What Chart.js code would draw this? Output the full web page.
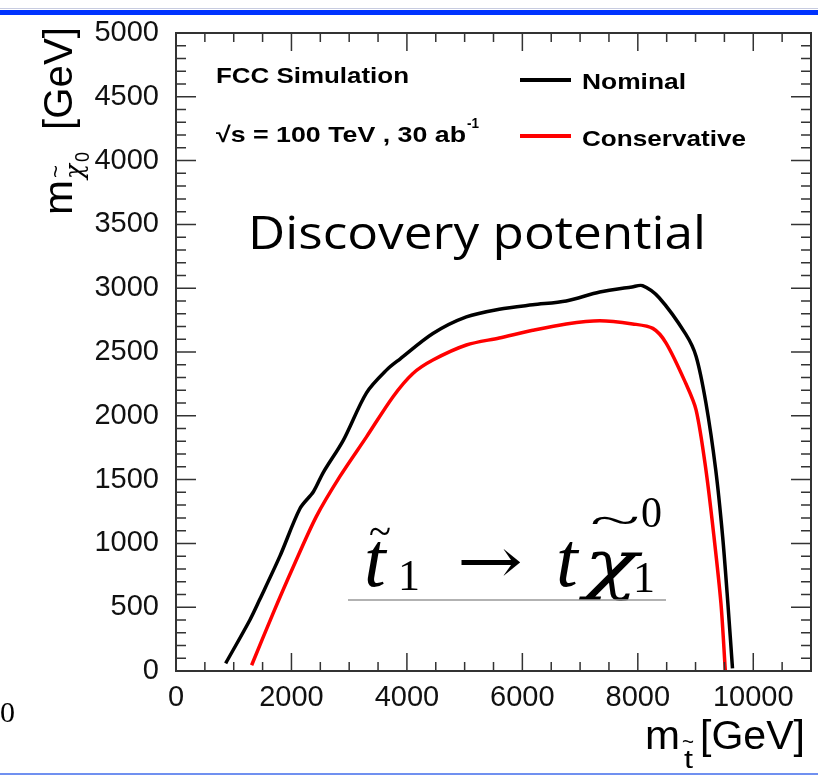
<!DOCTYPE html>
<html>
<head>
<meta charset="utf-8">
<script src="https://cdn.jsdelivr.net/npm/chart.js@4.4.1/dist/chart.umd.min.js"></script>
<style>
  body { margin: 0; background: #fff; }
  #wrap { position: relative; width: 818px; height: 775px; }
</style>
</head>
<body>
<div id="wrap"><canvas id="c" width="818" height="775"></canvas></div>
<script>
// stop mass (GeV) vs neutralino mass (GeV) reach contours
var nominalX = [860, 1280, 1450, 1800, 2150, 2380, 2550, 2900, 3300, 3650, 3880, 4450, 5030, 5600, 6180, 6760, 7340, 7900, 8080, 8370, 8830, 9010, 9180, 9350, 9470, 9560, 9640];
var nominalY = [60, 400, 560, 900, 1275, 1405, 1555, 1810, 2180, 2360, 2445, 2645, 2775, 2835, 2870, 2900, 2970, 3010, 3020, 2925, 2640, 2465, 2100, 1575, 1050, 530, 20];

var conservX = [1310, 1680, 2030, 2430, 2840, 3300, 3760, 4100, 4450, 5030, 5600, 6180, 6760, 7340, 7910, 8260, 8490, 8830, 9010, 9180, 9320, 9440, 9516];
var conservY = [45, 450, 815, 1210, 1525, 1835, 2150, 2330, 2437, 2555, 2610, 2670, 2720, 2745, 2720, 2685, 2570, 2255, 2045, 1575, 1050, 530, 0];

var xTicks = [0, 2000, 4000, 6000, 8000, 10000];
var yTicks = [0, 500, 1000, 1500, 2000, 2500, 3000, 3500, 4000, 4500, 5000];

function pts(xs, ys) {
  return xs.map(function (x, i) { return { x: x, y: ys[i] }; });
}

// draw a string, optionally stretched to a given width
function txt(ctx, s, x, y, font, w) {
  ctx.font = font;
  var m = ctx.measureText(s).width;
  var sx = w ? w / m : 1;
  ctx.save();
  ctx.translate(x, y);
  ctx.scale(sx, 1);
  ctx.fillText(s, 0, 0);
  ctx.restore();
  return x + m * sx;
}

var frame = {
  id: "frame",
  afterDraw: function (chart) {
    var ctx = chart.ctx;
    var a = chart.chartArea;
    var xs = chart.scales.x, ys = chart.scales.y;

    ctx.save();
    // frame + inside ticks on all four sides
    ctx.strokeStyle = "#333";
    ctx.lineWidth = 2;
    ctx.strokeRect(a.left, a.top, a.right - a.left, a.bottom - a.top);
    ctx.lineWidth = 1.5;
    ctx.beginPath();
    for (var v = 0; v <= 11000; v += 500) {
      var px = xs.getPixelForValue(v);
      var len = v % 2000 === 0 ? 18 : 9;
      ctx.moveTo(px, a.bottom); ctx.lineTo(px, a.bottom - len);
      ctx.moveTo(px, a.top); ctx.lineTo(px, a.top + len);
    }
    for (var w = 0; w <= 5000; w += 100) {
      var py = ys.getPixelForValue(w);
      var l2 = w % 500 === 0 ? 20 : 10;
      ctx.moveTo(a.left, py); ctx.lineTo(a.left + l2, py);
      ctx.moveTo(a.right, py); ctx.lineTo(a.right - l2, py);
    }
    ctx.stroke();

    ctx.fillStyle = "#000";
    ctx.textBaseline = "alphabetic";

    // y axis title
    ctx.save();
    ctx.translate(72, 215);
    ctx.rotate(-Math.PI / 2);
    txt(ctx, "m", 0, 0, "40px 'Liberation Sans'", 35);
    txt(ctx, "\u03c7", 36, 11, "italic 26px 'DejaVu Serif'", 15);
    txt(ctx, "~", 37, -9, "22px 'Liberation Sans'", 13);
    txt(ctx, "0", 53, 17, "20px 'Liberation Sans'", 10);
    txt(ctx, "[GeV]", 85, 0, "40px 'Liberation Sans'", 103);
    ctx.restore();

    // x axis title
    txt(ctx, "m", 645, 749, "40px 'Liberation Sans'", 35);
    txt(ctx, "t", 684, 768, "26px 'Liberation Sans'", 9);
    txt(ctx, "~", 682, 749, "22px 'Liberation Sans'", 12);
    txt(ctx, "[GeV]", 700, 749, "40px 'Liberation Sans'", 105);

    // labels
    txt(ctx, "FCC Simulation", 216, 83, "bold 22px 'Liberation Sans'", 193);
    var e = txt(ctx, "\u221as = 100 TeV , 30 ab", 216, 142, "bold 22px 'Liberation Sans'", 250);
    txt(ctx, "-1", e + 1, 128, "bold 14px 'Liberation Sans'", 12);

    // legend
    ctx.lineWidth = 4;
    ctx.strokeStyle = "#000";
    ctx.beginPath(); ctx.moveTo(520, 80); ctx.lineTo(571, 80); ctx.stroke();
    ctx.strokeStyle = "#ff0000";
    ctx.beginPath(); ctx.moveTo(520, 136); ctx.lineTo(571, 136); ctx.stroke();
    txt(ctx, "Nominal", 582, 89, "bold 22px 'Liberation Sans'", 104);
    txt(ctx, "Conservative", 582, 146, "bold 22px 'Liberation Sans'", 164);

    txt(ctx, "Discovery potential", 248, 249, "46px 'Open Sans'", 458);

    // decay formula
    var serifI = "italic 78px 'Liberation Serif', 'DejaVu Serif'";
    var serif = "44px 'Liberation Serif', 'DejaVu Serif'";
    txt(ctx, "t", 364, 586, serifI);
    txt(ctx, "~", 369, 546, "44px 'Liberation Serif'", 22);
    txt(ctx, "1", 398, 590, serif, 22);
    txt(ctx, "\u2192", 457, 583, "64px 'DejaVu Serif'", 66);
    txt(ctx, "t", 556, 586, serifI);
    txt(ctx, "\u03c7", 584, 586, "italic 66px 'DejaVu Serif'", 54);
    txt(ctx, "~", 590, 535, "44px 'Liberation Serif'", 50);
    txt(ctx, "0", 641, 527, serif, 21);
    txt(ctx, "1", 633, 592, serif, 22);
    ctx.strokeStyle = "#999";
    ctx.lineWidth = 1.5;
    ctx.beginPath(); ctx.moveTo(348, 600); ctx.lineTo(666, 600); ctx.stroke();

    txt(ctx, "0", 0, 722, "30px 'Liberation Serif'");

    // page rules
    ctx.fillStyle = "#c8cce0";
    ctx.fillRect(0, 8, 818, 1);
    ctx.fillStyle = "#0033ff";
    ctx.fillRect(0, 10, 818, 5);
    ctx.fillStyle = "#7090f0";
    ctx.fillRect(0, 773, 818, 2);
    ctx.restore();
  }
};

var tickFont = { family: "'Liberation Sans'", size: 29 };
function plain(v) { return String(v); }

new Chart("c", {
  type: "line",
  data: {
    datasets: [
      {
        label: "Nominal",
        data: pts(nominalX, nominalY),
        borderColor: "#000",
        borderWidth: 3.5,
        pointRadius: 0,
        tension: 0.3,
      },
      {
        label: "Conservative",
        data: pts(conservX, conservY),
        borderColor: "#ff0000",
        borderWidth: 3.5,
        pointRadius: 0,
        tension: 0.3,
      },
    ],
  },
  options: {
    responsive: false,
    animation: false,
    devicePixelRatio: 1,
    layout: { padding: { top: 33, right: 7, left: 0, bottom: 0 } },
    plugins: { legend: { display: false }, tooltip: { enabled: false } },
    scales: {
      x: {
        type: "linear",
        min: 0,
        max: 11000,
        grid: { display: false },
        border: { display: false },
        ticks: { font: tickFont, color: "#111", padding: 2, maxRotation: 0, callback: plain },
        afterBuildTicks: function (s) { s.ticks = xTicks.map(function (v) { return { value: v }; }); },
        afterFit: function (s) { s.height = 104; },
      },
      y: {
        type: "linear",
        min: 0,
        max: 5000,
        grid: { display: false },
        border: { display: false },
        ticks: { font: tickFont, color: "#111", padding: 9, callback: plain },
        afterBuildTicks: function (s) { s.ticks = yTicks.map(function (v) { return { value: v }; }); },
        afterFit: function (s) { s.width = 176; },
      },
    },
  },
  plugins: [frame],
});
</script>
</body>
</html>
